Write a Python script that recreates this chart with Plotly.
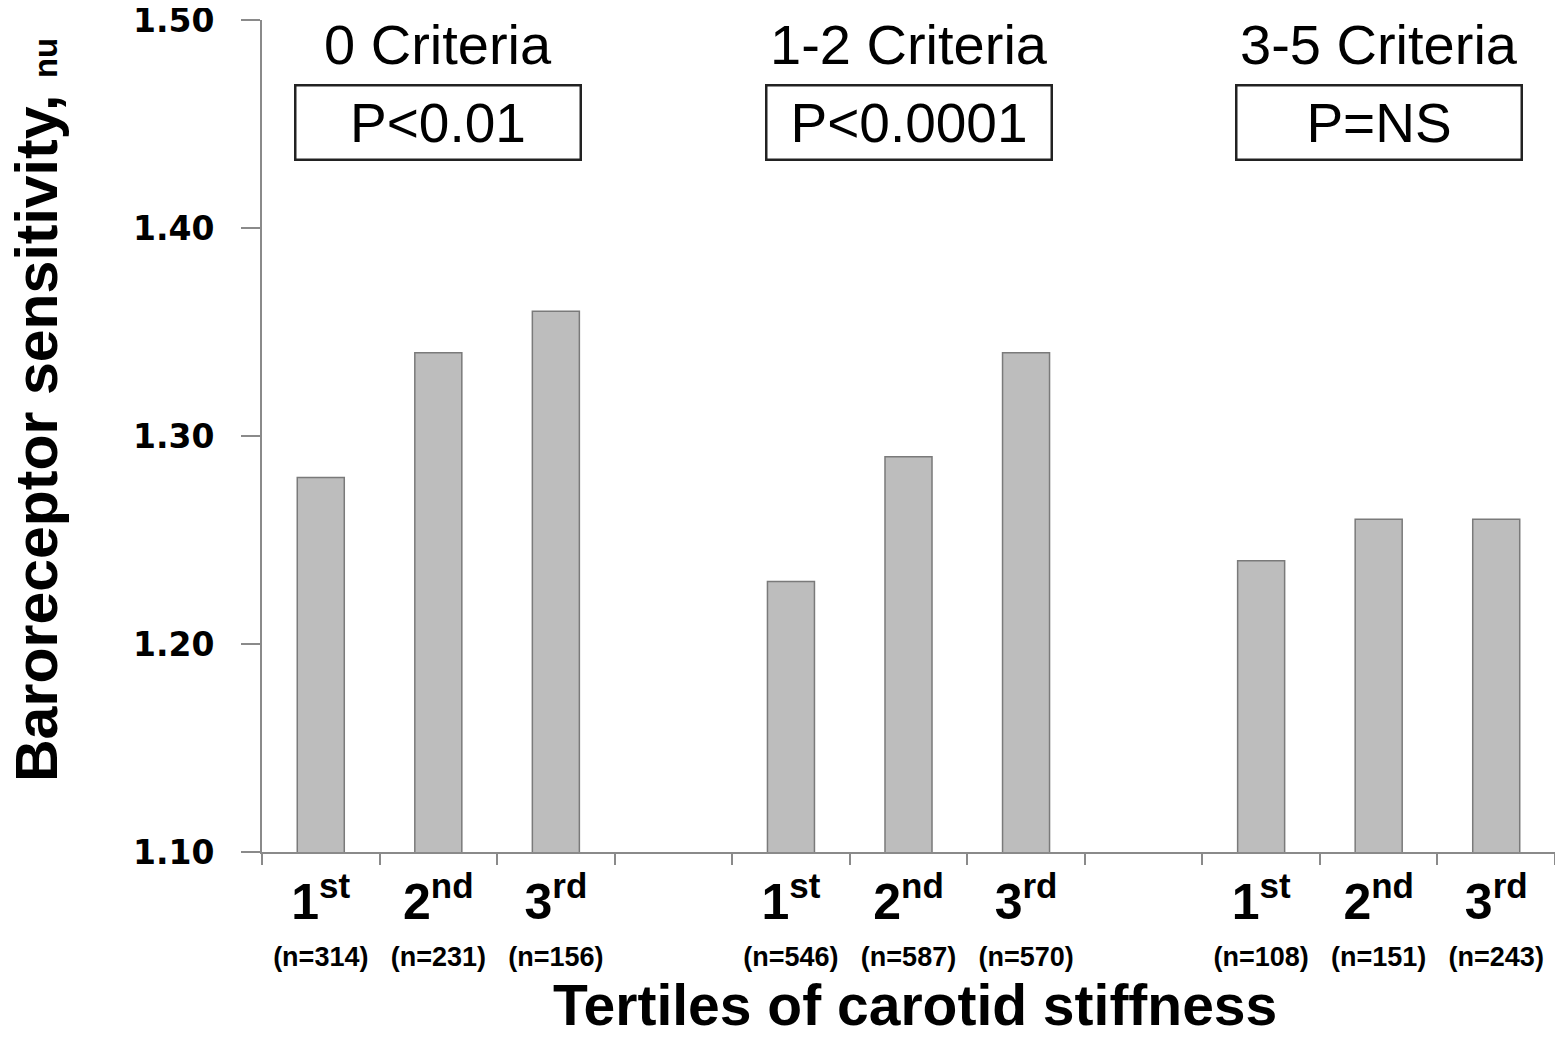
import plotly.graph_objects as go

# ---- data ----
groups = ["0 Criteria", "1-2 Criteria", "3-5 Criteria"]
p_values = ["P<0.01", "P<0.0001", "P=NS"]
tertile_num = ["1", "2", "3"]
tertile_suffix = ["st", "nd", "rd"]
n_counts = [[314, 231, 156], [546, 587, 570], [108, 151, 243]]
brs = [[1.28, 1.34, 1.36], [1.23, 1.29, 1.34], [1.24, 1.26, 1.26]]
y_ticks = [1.10, 1.20, 1.30, 1.40, 1.50]

# ---- build positions (3 bars per group, one empty slot between groups) ----
xs, ys, ticktext = [], [], []
for g in range(len(groups)):
    for i in range(3):
        xs.append(g * 4 + i)
        ys.append(brs[g][i])
        ticktext.append(
            f"<b><span style='font-size:50px'>{tertile_num[i]}<sup>{tertile_suffix[i]}</sup></span></b>"
            f"<br><b><span style='font-size:27px'>(n={n_counts[g][i]})</span></b>"
        )

fig = go.Figure()
fig.add_trace(go.Bar(
    x=xs, y=ys, width=0.4,
    marker=dict(color="#bdbdbd", line=dict(color="#7a7a7a", width=1.5)),
    hoverinfo="skip",
))

# page body adds an 8px offset; figure occupies 8..1563 x 8..1037 of the window
fig.update_layout(
    width=1555, height=1029,
    margin=dict(l=254, r=8, t=12, b=185),
    plot_bgcolor="white", paper_bgcolor="white",
    showlegend=False,
    font=dict(family="Liberation Sans, Arial, sans-serif", color="black"),
    xaxis=dict(
        range=[-0.5, 10.5], automargin=False,
        tickvals=xs, ticktext=ticktext,
        ticks="", showgrid=False, zeroline=False,
        showline=True, linecolor="#8a8a8a", linewidth=2,
        tickfont=dict(size=36, family="Liberation Sans, Arial, sans-serif", color="black"),
        ticklabelstandoff=22, ticklabeloverflow="allow",
        minor=dict(ticks="outside", tick0=-0.5, dtick=1, ticklen=11,
                   tickcolor="#8a8a8a", tickwidth=2, showgrid=False),
    ),
    yaxis=dict(
        range=[1.10, 1.50], automargin=False,
        tickvals=y_ticks, ticktext=[f"{v:.2f}" for v in y_ticks],
        ticks="outside", ticklen=19, tickcolor="#8a8a8a", tickwidth=2,
        showgrid=False, zeroline=False,
        showline=True, linecolor="#8a8a8a", linewidth=2,
        tickfont=dict(size=33, family="DejaVu Sans, sans-serif", color="black", weight="bold"),
        ticklabelstandoff=20, ticklabeloverflow="allow",
    ),
)

# group headers and p-value boxes
for g in range(len(groups)):
    cx = g * 4 + 1
    fig.add_annotation(x=cx, xref="x", y=1.0 - (45 - 20) / 832, yref="paper",
                       text=groups[g], showarrow=False,
                       font=dict(size=56, family="Liberation Sans, Arial, sans-serif", color="black"),
                       xanchor="center", yanchor="middle")
    fig.add_annotation(x=cx, xref="x", y=1.0 - (123 - 20) / 832, yref="paper",
                       text=p_values[g], showarrow=False,
                       font=dict(size=55, family="Liberation Sans, Arial, sans-serif", color="black"),
                       xanchor="center", yanchor="middle",
                       width=281, height=70, bordercolor="#222222", borderwidth=2.5,
                       bgcolor="white")

# axis titles
fig.add_annotation(x=(37 - 262) / 1293, xref="paper", y=(852 - 410) / 832, yref="paper",
                   text="<b>Baroreceptor sensitivity, <span style='font-size:33px'>nu</span></b>",
                   textangle=-90, showarrow=False,
                   font=dict(size=59, family="Liberation Sans, Arial, sans-serif", color="black"),
                   xanchor="center", yanchor="middle")
fig.add_annotation(x=(915 - 262) / 1293, xref="paper", y=(852 - 1005) / 832, yref="paper",
                   text="<b>Tertiles of carotid stiffness</b>", showarrow=False,
                   font=dict(size=57, family="Liberation Sans, Arial, sans-serif", color="black"),
                   xanchor="center", yanchor="middle")

fig.write_html("out.html")
